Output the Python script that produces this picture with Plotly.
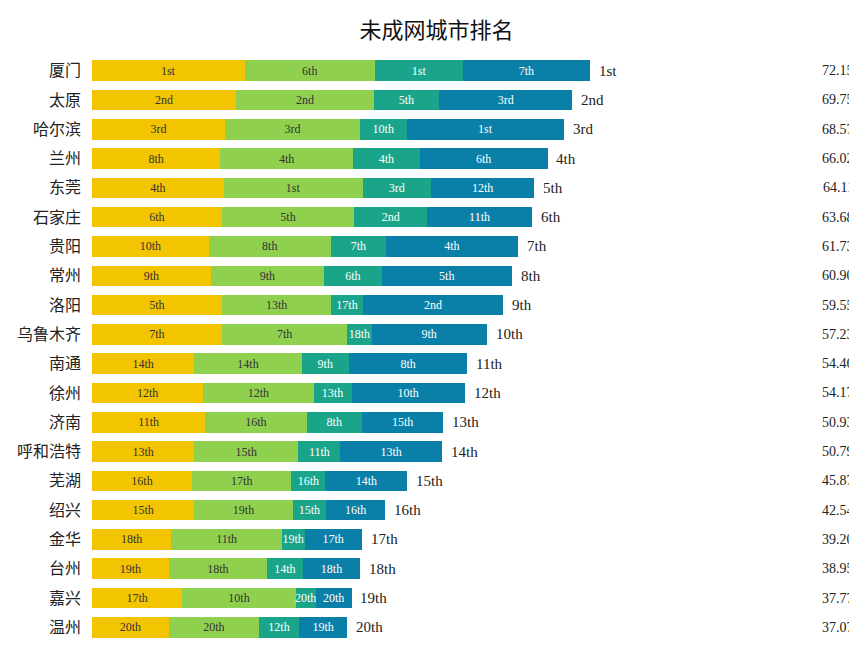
import plotly.graph_objects as go

cities = ["厦门","太原","哈尔滨","兰州","东莞","石家庄","贵阳","常州","洛阳","乌鲁木齐","南通","徐州","济南","呼和浩特","芜湖","绍兴","金华","台州","嘉兴","温州"]
scores = ["72.15","69.75","68.57","66.02","64.11","63.68","61.73","60.90","59.55","57.23","54.46","54.17","50.93","50.79","45.87","42.54","39.20","38.95","37.77","37.07"]
v1 = [22.1,20.9,19.3,18.6,19.1,18.8,16.9,17.2,18.8,18.8,14.8,16.1,16.4,14.8,14.5,14.8,11.5,11.1,13.1,11.1]
v2 = [18.9,19.9,19.5,19.2,20.1,19.2,17.7,16.4,15.9,18.2,15.6,16.0,14.7,15.1,14.4,14.3,16.0,14.3,16.4,13.1]
v3 = [12.8,9.5,6.8,9.7,9.9,10.6,8.0,8.4,4.5,3.5,6.8,5.5,8.0,6.1,4.9,4.8,3.3,5.1,2.9,5.8]
v4 = [18.3,19.3,22.8,18.5,15.0,15.1,19.1,18.8,20.4,16.7,17.2,16.4,11.8,14.7,11.9,8.6,8.3,8.4,5.2,7.0]
r1 = ["1st","2nd","3rd","8th","4th","6th","10th","9th","5th","7th","14th","12th","11th","13th","16th","15th","18th","19th","17th","20th"]
r2 = ["6th","2nd","3rd","4th","1st","5th","8th","9th","13th","7th","14th","12th","16th","15th","17th","19th","11th","18th","10th","20th"]
r3 = ["1st","5th","10th","4th","3rd","2nd","7th","6th","17th","18th","9th","13th","8th","11th","16th","15th","19th","14th","20th","12th"]
r4 = ["7th","3rd","1st","6th","12th","11th","4th","5th","2nd","9th","8th","10th","15th","13th","14th","16th","17th","18th","20th","19th"]
overall = ["1st","2nd","3rd","4th","5th","6th","7th","8th","9th","10th","11th","12th","13th","14th","15th","16th","17th","18th","19th","20th"]

colors = ["#F2C500", "#8FD14F", "#1AA58A", "#0A7FA8"]
tcol = ["#333333", "#333333", "white", "white"]
fig = go.Figure()
for vals, txt, c, tc in zip([v1, v2, v3, v4], [r1, r2, r3, r4], colors, tcol):
    fig.add_trace(go.Bar(y=cities, x=vals, orientation="h", marker=dict(color=c, line=dict(width=0)),
                         text=txt, textposition="inside", insidetextanchor="middle",
                         constraintext="none", textangle=0,
                         textfont=dict(color=tc, size=12, family="Liberation Serif"), hoverinfo="skip"))
for i, city in enumerate(cities):
    tot = v1[i] + v2[i] + v3[i] + v4[i]
    fig.add_annotation(x=tot + 1, y=city, text=overall[i], xanchor="left", showarrow=False,
                       font=dict(size=15, family="Liberation Serif", color="#222"))
    fig.add_annotation(x=1.0, xref="paper", y=city, text=scores[i], xanchor="right", showarrow=False,
                       font=dict(size=14, family="Liberation Serif", color="#222"))
fig.update_layout(
    width=857, height=653, barmode="stack", bargap=0.3, showlegend=False,
    plot_bgcolor="white", paper_bgcolor="white",
    margin=dict(l=84, r=9, t=48, b=19),
    title=dict(text="未成网城市排名", x=0.5, xanchor="center", y=0.966, yanchor="middle",
               font=dict(size=22, family="Noto Sans CJK SC", color="#111")),
    xaxis=dict(range=[0, 110.7], visible=False),
    yaxis=dict(autorange="reversed", showgrid=False, ticks="", automargin=False,
               ticklabelstandoff=10,
               tickfont=dict(size=16, family="Noto Sans CJK SC", color="#222")),
)
fig.write_html("out.html")
